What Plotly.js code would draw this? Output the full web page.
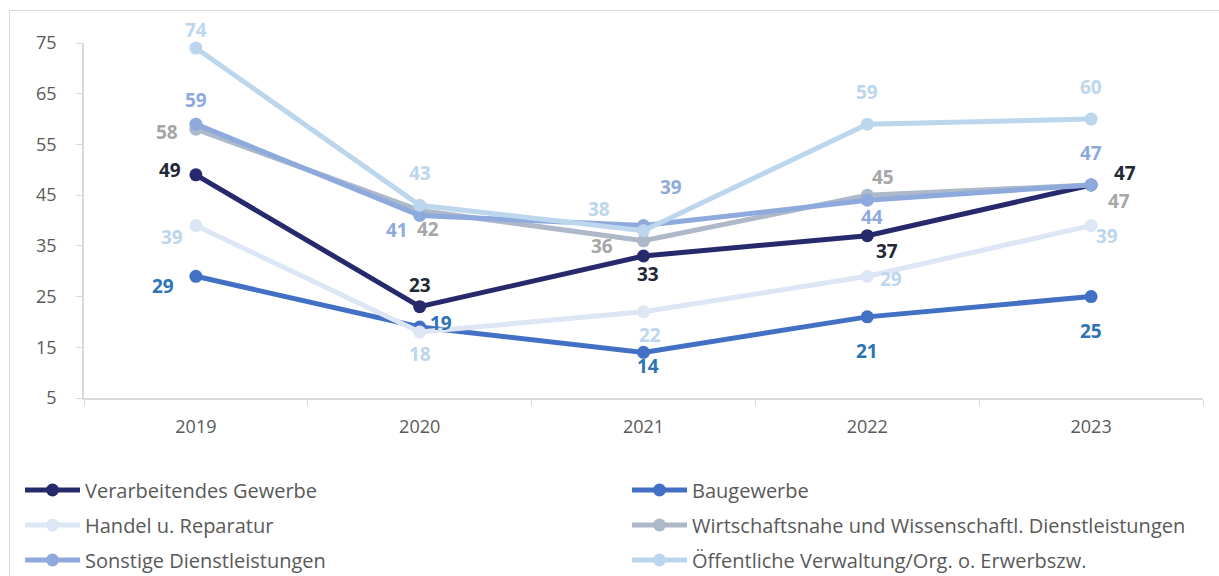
<!DOCTYPE html>
<html>
<head>
<meta charset="utf-8">
<script src="https://cdn.plot.ly/plotly-3.0.1.min.js"></script>
<style>html,body{margin:0;padding:0;background:#fff;}#chart{width:1219px;height:576px;}#err{position:absolute;left:100px;top:60px;color:red;font:14px sans-serif;}</style>
</head>
<body>
<div id="chart"></div>
<div id="err"></div>
<script>
window.onerror = function(m){ document.getElementById('err').textContent += ' ERR: ' + m; };
const years = ['2019','2020','2021','2022','2023'];
const seriesNames = [
  'Verarbeitendes Gewerbe',
  'Baugewerbe',
  'Handel u. Reparatur',
  'Wirtschaftsnahe und Wissenschaftl. Dienstleistungen',
  'Sonstige Dienstleistungen',
  'Öffentliche Verwaltung/Org. o. Erwerbszw.'
];
const verarbeitend = [49, 23, 33, 37, 47];
const bau = [29, 19, 14, 21, 25];
const handel = [39, 18, 22, 29, 39];
const wirtschaft = [58, 42, 36, 45, 47];
const sonstige = [59, 41, 39, 44, 47];
const oeffentlich = [74, 43, 38, 59, 60];
const yTicks = [5, 15, 25, 35, 45, 55, 65, 75];

// styling (not data)
const lineColors = ['#262a6c', '#4270c4', '#dde6f4', '#adb8c9', '#8eaadc', '#bcd6ee'];
const labelColors = ['#222834', '#2e74b5', '#bcd6ee', '#a6a6a6', '#8eaadc', '#bcd6ee'];
const labelOffsets = [
  [[-26,-5],[0,-22],[4,18],[20,15],[34,-12]],
  [[-33,10],[21,-4],[4,14],[0,34],[0,34]],
  [[-24,11],[0,22],[6,23],[24,3],[16,10]],
  [[-29,3],[8,19],[-42,5],[16,-18],[28,16]],
  [[0,-24],[-23,15],[27,-39],[5,17],[0,-32]],
  [[0,-18],[0,-32],[-45,-22],[0,-32],[0,-32]]
];
const legendIds = ['legend','legend2','legend3','legend4','legend5','legend6'];
const legendPos = [[20,490],[627,490],[20,525],[627,525],[20,560],[627,560]];

const allSeries = [verarbeitend, bau, handel, wirtschaft, sonstige, oeffentlich];
const FONT = '"Open Sans", Lato, sans-serif';

const traces = allSeries.map((vals, i) => ({
  type: 'scatter', mode: 'lines+markers',
  x: years, y: vals, name: seriesNames[i],
  line: {color: lineColors[i], width: 5},
  marker: {color: lineColors[i], size: 13},
  legend: legendIds[i],
  cliponaxis: false,
  hoverinfo: 'x+y+name'
}));

const annotations = [];
allSeries.forEach((vals, i) => {
  vals.forEach((v, j) => {
    annotations.push({
      x: j, y: v, xref: 'x', yref: 'y',
      text: '<b>' + v + '</b>', showarrow: false,
      xanchor: 'center', yanchor: 'middle',
      xshift: labelOffsets[i][j][0], yshift: -labelOffsets[i][j][1],
      font: {family: FONT, size: 19, color: labelColors[i]}
    });
  });
});

const plotL = 84, plotR = 1203, plotT = 43, plotB = 398;
const pw = plotR - plotL, ph = plotB - plotT;
const px = x => (x - plotL) / pw;
const py = y => (plotB - y) / ph;

function legendAt(pos) {
  return {
    orientation: 'h', x: px(pos[0]), y: py(pos[1]), xanchor: 'left', yanchor: 'middle',
    itemwidth: 55,
    font: {family: FONT, size: 20, color: '#595959'},
    bgcolor: 'rgba(0,0,0,0)', borderwidth: 0
  };
}

const layout = {
  width: 1219, height: 576,
  margin: {l: plotL, r: 1219 - plotR, t: plotT, b: 576 - plotB, autoexpand: false},
  paper_bgcolor: '#ffffff', plot_bgcolor: '#ffffff',
  font: {family: FONT, color: '#595959'},
  showlegend: true,
  xaxis: {
    type: 'category', range: [-0.5, 4.5], tickson: 'boundaries',
    ticks: 'outside', ticklen: 6, tickcolor: '#d9d9d9', tickwidth: 1,
    showline: true, linecolor: '#d9d9d9', linewidth: 1.5,
    showgrid: false, zeroline: false, fixedrange: true,
    tickfont: {family: FONT, size: 18, color: '#595959'},
    ticklabelstandoff: 12
  },
  yaxis: {
    range: [5, 75], tickvals: yTicks, ticktext: yTicks.map(String),
    ticks: 'outside', ticklen: 6, tickcolor: '#d9d9d9', tickwidth: 1,
    showline: true, linecolor: '#d9d9d9', linewidth: 1.5,
    showgrid: false, zeroline: false, fixedrange: true,
    tickfont: {family: FONT, size: 18, color: '#595959'},
    ticklabelstandoff: 16
  },
  annotations: annotations,
  shapes: [{
    type: 'rect', xref: 'paper', yref: 'paper',
    x0: px(9.5), x1: px(1240), y0: py(600), y1: py(10.5),
    line: {color: '#d9d9d9', width: 1}, fillcolor: 'rgba(0,0,0,0)', layer: 'below'
  }]
};
legendIds.forEach((id, i) => { layout[id] = legendAt(legendPos[i]); });

Plotly.newPlot('chart', traces, layout, {displayModeBar: false, responsive: false})
  .catch(e => { document.getElementById('err').textContent += ' P: ' + e; });
</script>
</body>
</html>
